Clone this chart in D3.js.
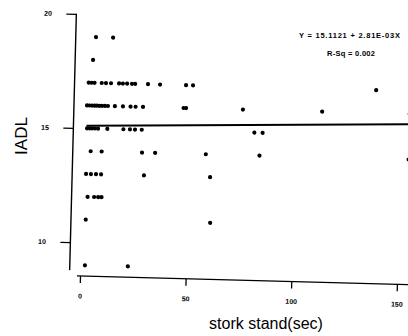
<!DOCTYPE html>
<html><head><meta charset="utf-8">
<script src="https://cdn.jsdelivr.net/npm/d3@7"></script>
<style>body{margin:0;background:#fff}svg{display:block}</style>
</head><body>
<script>
// Data (stork stand seconds, IADL score)
const storkRow19 = [4.6, 12.7];
const storkRow18 = [3.5];
const storkRow17 = [1.7, 3.1, 4.5, 7.9, 9.9, 12.3, 16.1, 17.9, 19.9, 22.2, 23.7, 29.8, 35.5, 47.8, 51.1, 137.8];
const storkRow16 = [1.2, 2.4, 3.6, 4.8, 5.9, 7.1, 8.3, 9.7, 11.1, 14.4, 18.2, 21.8, 24.2, 27.7, 46.9, 48.1, 75.0, 112.5, 154];
const storkRow15 = [1.5, 2.7, 3.9, 5.3, 6.7, 11.1, 18.7, 21.8, 24.2, 27.4, 80.7, 84.6];
const storkRow14 = [3.5, 8.7, 27.8, 34.0, 58.0, 83.4, 154];
const storkRow13 = [1.6, 3.9, 6.3, 8.7, 29.0, 60.3];
const storkRow12 = [2.6, 5.7, 7.6, 9.2];
const storkRow11 = [2.0, 60.9];
const storkRow9 = [2.2, 22.5];
const rowValues = [19, 18, 17, 16, 15, 14, 13, 12, 11, 9];
const rowStork = [storkRow19, storkRow18, storkRow17, storkRow16, storkRow15, storkRow14, storkRow13, storkRow12, storkRow11, storkRow9];
const xTicks = [0, 50, 100, 150];
const yTicks = [10, 15, 20];
const intercept = 15.1121, slope = 2.81e-3;
const eqText = "Y = 15.1121 + 2.81E-03X";
const rsqText = "R-Sq = 0.002";
const xTitle = "stork stand(sec)";
const yTitle = "IADL";

const points = [];
rowValues.forEach((v, i) => rowStork[i].forEach(s => points.push({x: s, y: v})));

const W = 408, H = 336;
const svg = d3.select("body").append("svg").attr("width", W).attr("height", H);
svg.append("rect").attr("width", W).attr("height", H).attr("fill", "#fff");

const x = d3.scaleLinear().domain([0, 150]).range([0, 317]);
const y = d3.scaleLinear().domain([8.525, 20]).range([0, -262]);

const g = svg.append("g").attr("transform", "translate(80,276) rotate(1.5)");
const font = "'Liberation Sans', Arial, sans-serif";

// axes lines
g.append("line").attr("x1", -10.5).attr("x2", -10.5).attr("y1", y(8.77)).attr("y2", y(20))
  .attr("stroke", "#000").attr("stroke-width", 1.4);
g.append("line").attr("x1", -3).attr("x2", 360).attr("y1", 0).attr("y2", 0)
  .attr("stroke", "#000").attr("stroke-width", 1.4);

const yAxis = g.append("g").attr("transform", "translate(-10.5,0)")
  .call(d3.axisLeft(y).tickValues(yTicks).tickSize(10).tickPadding(14.5).tickFormat(d3.format("d")));
const xAxis = g.append("g")
  .call(d3.axisBottom(x).tickValues(xTicks).tickSize(7).tickPadding(10.5).tickFormat(d3.format("d")));
[yAxis, xAxis].forEach(a => {
  a.select(".domain").remove();
  a.selectAll("line").attr("stroke", "#000").attr("stroke-width", 1.3);
  a.selectAll("text").attr("fill", "#000").style("font-family", font).style("font-size", "7px").style("font-weight", "bold");
});

// regression line
const xs = d3.extent(points, d => d.x);
g.append("line")
  .attr("x1", x(xs[0])).attr("y1", y(intercept + slope * xs[0]))
  .attr("x2", x(xs[1] + 10)).attr("y2", y(intercept + slope * (xs[1] + 10)))
  .attr("stroke", "#000").attr("stroke-width", 2);

// points
g.selectAll("circle.pt").data(points).enter().append("circle")
  .attr("class", "pt").attr("cx", d => x(d.x)).attr("cy", d => y(d.y)).attr("r", 2.1).attr("fill", "#000");

// texts
svg.append("text").attr("x", 349.5).attr("y", 37.5).attr("text-anchor", "middle")
  .attr("textLength", 101).attr("lengthAdjust", "spacing")
  .style("font-family", font).style("font-size", "7.5px").style("font-weight", "bold").text(eqText);
svg.append("text").attr("x", 351).attr("y", 56).attr("text-anchor", "middle")
  .attr("textLength", 48).attr("lengthAdjust", "spacing")
  .style("font-family", font).style("font-size", "7.5px").style("font-weight", "bold").text(rsqText);
svg.append("text").attr("x", 266).attr("y", 329).attr("text-anchor", "middle")
  .style("font-family", font).style("font-size", "16px").text(xTitle);
svg.append("text").attr("transform", "translate(27,136) rotate(-90)").attr("text-anchor", "middle")
  .style("font-family", font).style("font-size", "17px").text(yTitle);
</script>
</body></html>
